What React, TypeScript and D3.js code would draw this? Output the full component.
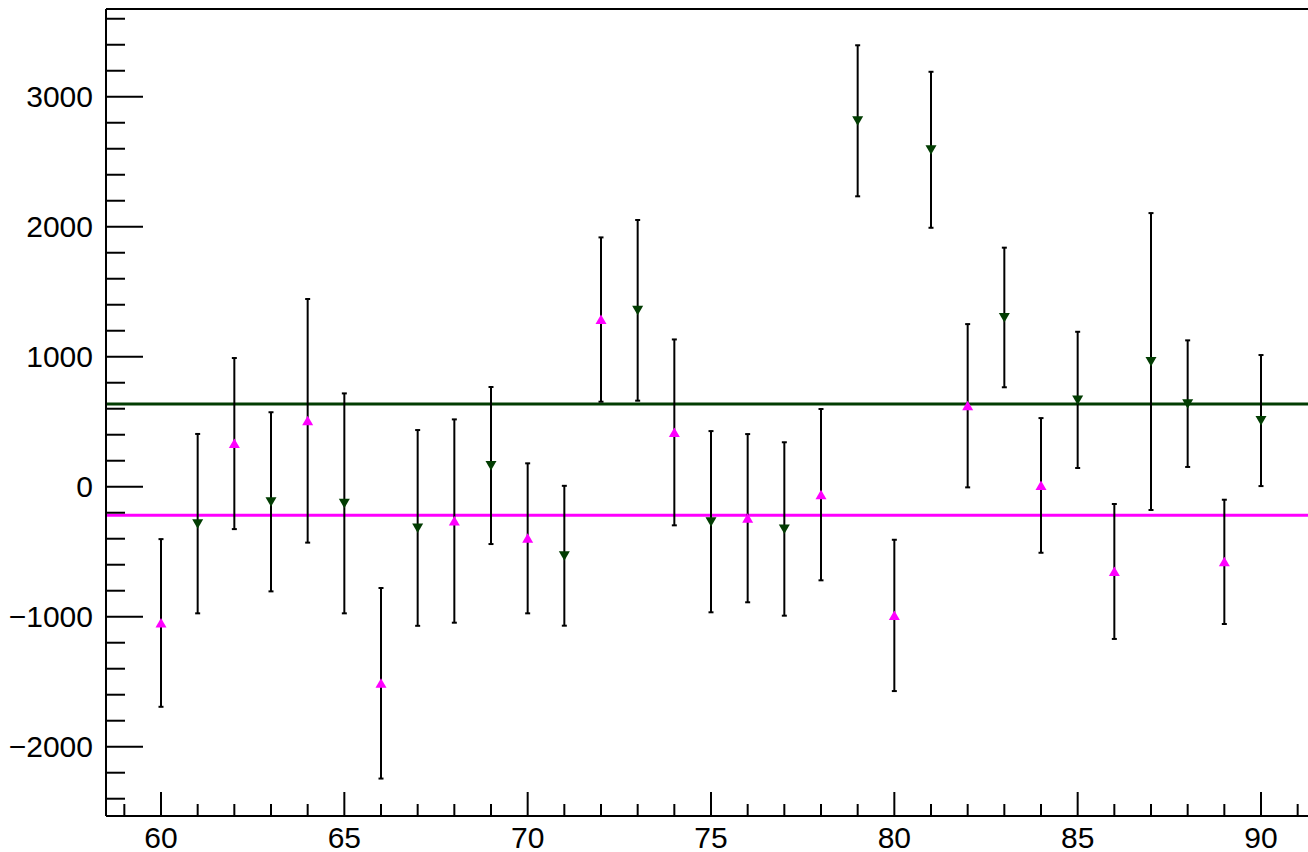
import React from "react";
import * as d3 from "d3";

const magentaX = [60, 62, 64, 66, 68, 70, 72, 74, 76, 78, 80, 82, 84, 86, 89];
const magentaY = [-1048, 332, 507, -1512, -264, -397, 1286, 418, -242, -61, -990, 623, 10, -652, -578];
const magentaErr = [645, 658, 937, 733, 782, 577, 632, 715, 647, 659, 582, 628, 518, 519, 478];

const greenX = [61, 63, 65, 67, 69, 71, 73, 75, 77, 79, 81, 83, 85, 87, 88, 90];
const greenY = [-284, -116, -128, -317, 163, -531, 1357, -269, -325, 2815, 2592, 1302, 668, 963, 639, 509];
const greenErr = [690, 689, 846, 753, 604, 538, 695, 697, 667, 581, 600, 537, 524, 1142, 487, 504];

const greenFit = 636;
const magentaFit = -220;

const xTickLabels = [60, 65, 70, 75, 80, 85, 90];
const yTickLabels = [-2000, -1000, 0, 1000, 2000, 3000];

const W = 1308;
const H = 852;
const MAGENTA = "#ff00ff";
const GREEN = "#023d02";

export default function App() {
  const left = 106, right = 1316, top = 9, bottom = 816;
  const x = d3.scaleLinear().domain([58.5, 91.5]).range([left, right]);
  const y = d3.scaleLinear().domain([-2533, 3675]).range([bottom, top]);

  const xMinor = d3.range(59, 92, 1);
  const yMinor = d3.range(-2400, 3601, 200);
  const fmt = (v: number) => (v < 0 ? "\u2212" + Math.abs(v) : String(v));

  const errBar = (xv: number, yv: number, e: number, key: string) => {
    const px = x(xv);
    const y1 = y(yv + e), y2 = y(yv - e);
    return (
      <g key={key} stroke="#000" strokeWidth={2}>
        <line x1={px} x2={px} y1={y1} y2={y2} />
        <line x1={px - 2.5} x2={px + 2.5} y1={y1} y2={y1} />
        <line x1={px - 2.5} x2={px + 2.5} y1={y2} y2={y2} />
      </g>
    );
  };

  const triUp = "M0,-5 L5.5,4.5 L-5.5,4.5 Z";
  const triDown = "M0,5 L5.5,-4.5 L-5.5,-4.5 Z";

  return (
    <svg
      width={W}
      height={H}
      style={{ position: "absolute", left: 0, top: 0, background: "#fff" }}
      fontFamily="'Liberation Sans', Arial, Helvetica, sans-serif"
    >
      <rect x={0} y={0} width={W} height={H} fill="#fff" />
      {/* fit lines */}
      <line x1={left} x2={right} y1={y(greenFit)} y2={y(greenFit)} stroke={GREEN} strokeWidth={3} />
      <line x1={left} x2={right} y1={y(magentaFit)} y2={y(magentaFit)} stroke={MAGENTA} strokeWidth={3} />
      {/* error bars */}
      {magentaX.map((xv, i) => errBar(xv, magentaY[i], magentaErr[i], "me" + i))}
      {greenX.map((xv, i) => errBar(xv, greenY[i], greenErr[i], "ge" + i))}
      {/* markers */}
      {magentaX.map((xv, i) => (
        <path key={"mm" + i} d={triUp} transform={`translate(${x(xv)},${y(magentaY[i])})`} fill={MAGENTA} />
      ))}
      {greenX.map((xv, i) => (
        <path key={"gm" + i} d={triDown} transform={`translate(${x(xv)},${y(greenY[i])})`} fill={GREEN} />
      ))}
      {/* frame */}
      <line x1={left} x2={W} y1={top} y2={top} stroke="#000" strokeWidth={2} />
      <line x1={left} x2={W} y1={bottom} y2={bottom} stroke="#000" strokeWidth={2} />
      <line x1={left} x2={left} y1={top} y2={bottom} stroke="#000" strokeWidth={2} />
      {/* x ticks */}
      {xMinor.map((v) => {
        const major = v % 5 === 0;
        return (
          <line key={"xt" + v} x1={x(v)} x2={x(v)} y1={bottom} y2={bottom - (major ? 24 : 12)} stroke="#000" strokeWidth={2} />
        );
      })}
      {/* y ticks */}
      {yMinor.map((v) => {
        const major = v % 1000 === 0;
        return (
          <line key={"yt" + v} x1={left} x2={left + (major ? 37 : 19)} y1={y(v)} y2={y(v)} stroke="#000" strokeWidth={2} />
        );
      })}
      {/* labels */}
      {xTickLabels.map((v) => (
        <text key={"xl" + v} x={x(v)} y={848} textAnchor="middle" fontSize={30} fill="#000">
          {v}
        </text>
      ))}
      {yTickLabels.map((v) => (
        <text key={"yl" + v} x={93} y={y(v) + 10.7} textAnchor="end" fontSize={30} fill="#000">
          {fmt(v)}
        </text>
      ))}
    </svg>
  );
}
